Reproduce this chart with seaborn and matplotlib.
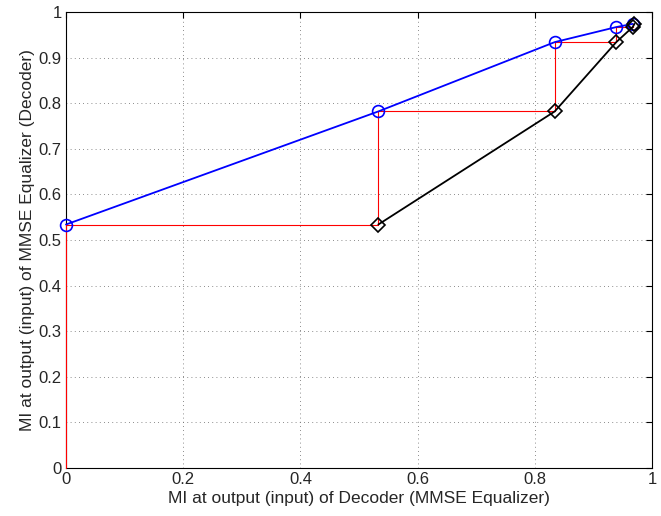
import matplotlib
matplotlib.use('Agg')
import matplotlib.pyplot as plt
import seaborn as sns
import numpy as np
import pandas as pd

# EXIT chart data
dec_to_eq = [0.0, 0.533, 0.834, 0.939, 0.967]      # MI fed to the equalizer
eq_out = [0.534, 0.782, 0.934, 0.967, 0.974]       # MI out of the equalizer
dec_out = [0.533, 0.834, 0.939, 0.967, 0.970]      # MI out of the decoder

# staircase trajectory built from the two curves
traj_x = [0.0]
traj_y = [0.0]
for xi, yi, xo in zip(dec_to_eq, eq_out, dec_out):
    traj_x += [xi, xo]
    traj_y += [yi, yi]

sns.set_style('white')
plt.rcParams['font.family'] = ['Liberation Sans', 'DejaVu Sans']

fig = plt.figure(figsize=(6.61, 5.16), dpi=100)
ax = fig.add_axes([0.0998, 0.093, 0.8866, 0.8837])

traj = pd.DataFrame({'x': traj_x, 'y': traj_y})
sns.lineplot(data=traj, x='x', y='y', sort=False, estimator=None,
             color='red', lw=0.8, ax=ax, zorder=3, clip_on=False)

eq = pd.DataFrame({'x': dec_to_eq, 'y': eq_out})
sns.lineplot(data=eq, x='x', y='y', sort=False, estimator=None, color='blue',
             lw=1.3, marker='o', markersize=8.5, markerfacecolor='none',
             markeredgecolor='blue', markeredgewidth=1.2, ax=ax,
             zorder=4, clip_on=False)

dec = pd.DataFrame({'x': dec_out, 'y': eq_out})
sns.lineplot(data=dec, x='x', y='y', sort=False, estimator=None, color='black',
             lw=1.3, marker='D', markersize=7, markerfacecolor='none',
             markeredgecolor='black', markeredgewidth=1.2, ax=ax,
             zorder=5, clip_on=False)

ax.set_xlim(0, 1)
ax.set_ylim(0, 1)
ax.set_xticks(np.arange(0, 1.01, 0.2))
ax.set_yticks(np.arange(0, 1.01, 0.1))
ax.set_xticklabels(['0', '0.2', '0.4', '0.6', '0.8', '1'])
ax.set_yticklabels(['0'] + ['%.1f' % v for v in np.arange(0.1, 0.95, 0.1)] + ['1'])
ax.grid(True, linestyle=(0, (1, 4)), color='#666666', lw=0.6)
ax.tick_params(direction='in', length=4, labelsize=12, top=True, right=True,
               color='black', pad=3)
for s in ax.spines.values():
    s.set_color('black')
    s.set_linewidth(0.8)

ax.set_xlabel('MI at output (input) of Decoder (MMSE Equalizer)', fontsize=12.5, labelpad=3)
ax.set_ylabel('MI at output (input) of MMSE Equalizer (Decoder)', fontsize=12.5, labelpad=3)

fig.savefig('out.png', dpi=100)
